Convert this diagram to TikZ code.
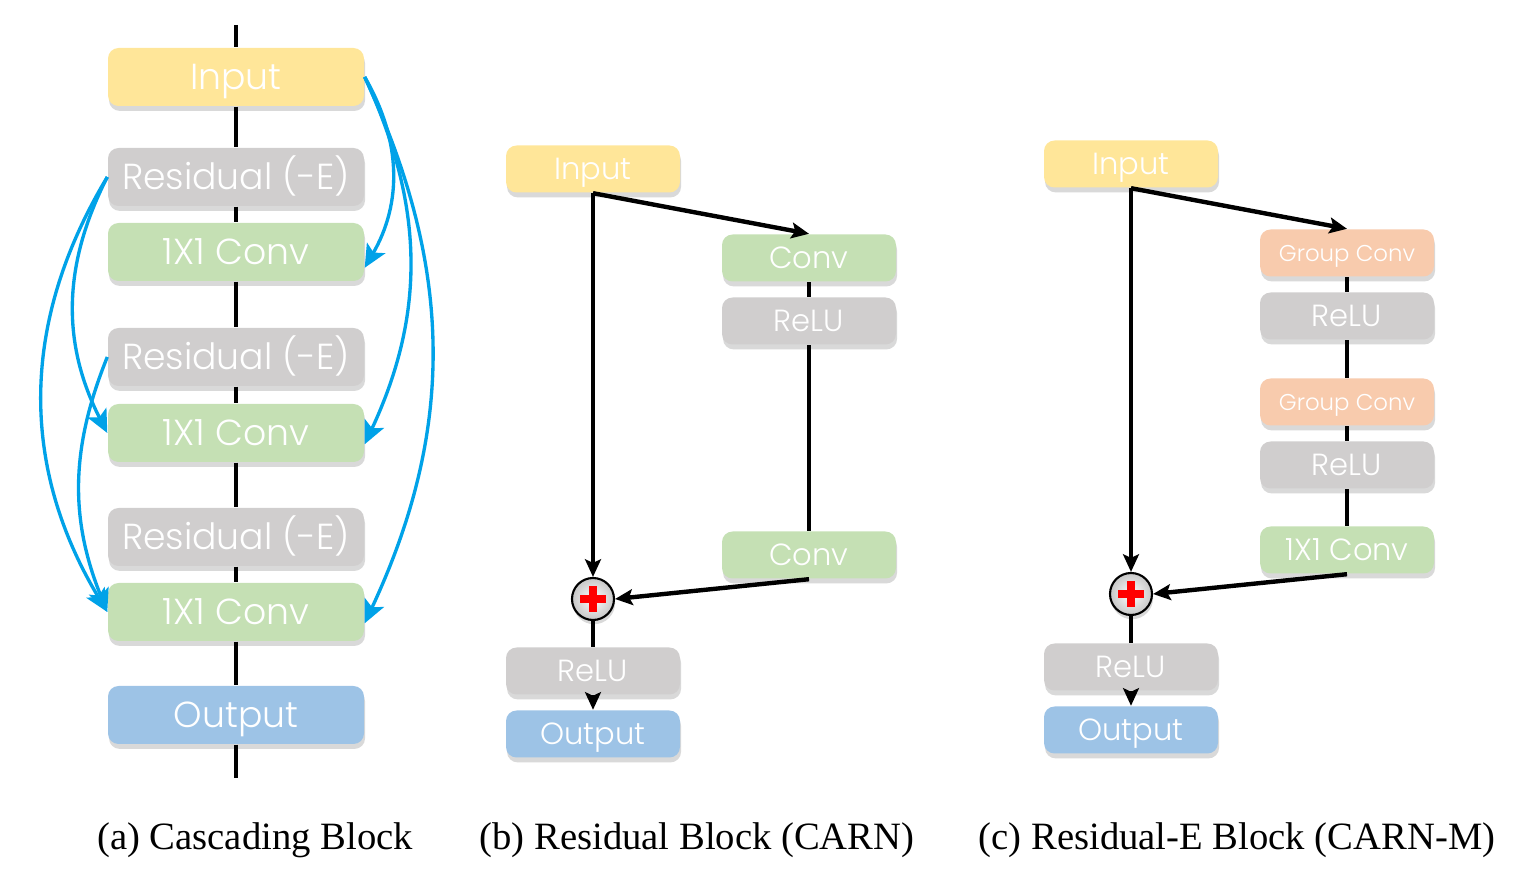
\documentclass[tikz,border=0pt]{standalone}
\usepackage{fontspec}
\setmainfont{Liberation Serif}
\newfontfamily\boxfont{Poppins Light}
\definecolor{boxyellow}{RGB}{255,230,153}
\definecolor{boxgray}{RGB}{208,206,206}
\definecolor{boxgreen}{RGB}{197,224,180}
\definecolor{boxblue}{RGB}{157,195,230}
\definecolor{boxorange}{RGB}{248,203,173}
\definecolor{skipblue}{RGB}{0,162,232}
\usetikzlibrary{arrows.meta,positioning,shadows}

\begin{document}
\begin{tikzpicture}[
  every node/.style={font=\boxfont},
  blockA/.style={rounded corners=3pt,minimum width=2.56cm,minimum height=0.58cm,inner sep=0pt,
                 text=white,font=\boxfont\fontsize{10.3}{12}\selectfont,text height=7.2pt,text depth=0pt,
                 drop shadow={shadow xshift=0.3pt,shadow yshift=-1.4pt,opacity=0.25,fill=black!60}},
  blockB/.style={blockA,minimum width=1.74cm,minimum height=0.47cm,
                 font=\boxfont\fontsize{8.7}{10}\selectfont,text height=6.1pt},
  blockS/.style={blockB,font=\boxfont\fontsize{6.5}{8}\selectfont,text height=4.6pt},
  sumnode/.style={circle,draw,line width=0.6pt,minimum size=0.42cm,inner sep=0pt,
                  inner color=white,outer color=black!22,
                  drop shadow={shadow xshift=0.3pt,shadow yshift=-1.2pt,opacity=0.25,fill=black!60},
                  path picture={
                    \fill[red] ([xshift=-0.13cm,yshift=-0.043cm]path picture bounding box.center) rectangle ++(0.26,0.086);
                    \fill[red] ([xshift=-0.043cm,yshift=-0.13cm]path picture bounding box.center) rectangle ++(0.086,0.26);
                  }},
  trunk/.style={line width=1.25pt},
  flow/.style={trunk,-{Stealth[length=5pt,width=4.5pt,inset=1pt]}},
  skip/.style={line width=0.95pt,skipblue,-{Stealth[length=6.5pt,width=6pt,inset=1.5pt]}},
  caption/.style={font=\rmfamily\fontsize{11}{13}\selectfont,anchor=base},
]
  \useasboundingbox (0,0) rectangle (15.35,-8.87);

  % (a) Cascading block
  \coordinate (topA) at (2.36,-0.25);
  \coordinate (botA) at (2.36,-7.78);
  \node[blockA,fill=boxyellow] (inA) at (2.36,-0.77) {Input};
  \node[blockA,fill=boxgray] (resA1) at (2.36,-1.77) {Residual (-E)};
  \node[blockA,fill=boxgreen] (cvA1) at (2.36,-2.52) {1X1 Conv};
  \node[blockA,fill=boxgray] (resA2) at (2.36,-3.57) {Residual (-E)};
  \node[blockA,fill=boxgreen] (cvA2) at (2.36,-4.33) {1X1 Conv};
  \node[blockA,fill=boxgray] (resA3) at (2.36,-5.37) {Residual (-E)};
  \node[blockA,fill=boxgreen] (cvA3) at (2.36,-6.12) {1X1 Conv};
  \node[blockA,fill=boxblue] (outA) at (2.36,-7.15) {Output};

  \foreach \a/\b in {topA/inA,inA/resA1,resA1/cvA1,cvA1/resA2,resA2/cvA2,cvA2/resA3,resA3/cvA3,cvA3/outA,outA/botA}
    \draw[trunk] (\a) -- (\b);

  % cascading skips
  \draw[skip] (inA.east) to[out=-60,in=60] (cvA1.-7);
  \draw[skip] (inA.east) to[out=-65,in=65] (cvA2.-5);
  \draw[skip] (inA.east) to[out=-65,in=65] (cvA3.-5);
  \draw[skip] (resA1.west) to[out=-117,in=117] (cvA2.west);
  \draw[skip] (resA1.west) to[out=-121,in=121] (cvA3.west);
  \draw[skip] (resA2.west) to[out=-112,in=112] (cvA3.west);

  % (b) Residual block
  \node[blockB,fill=boxyellow] (inB) at (5.93,-1.69) {Input};
  \node[blockB,fill=boxgreen] (cvB1) at (8.09,-2.58) {Conv};
  \node[blockB,fill=boxgray] (reB1) at (8.09,-3.21) {ReLU};
  \node[blockB,fill=boxgreen] (cvB2) at (8.09,-5.55) {Conv};
  \node[sumnode] (plusB) at (5.93,-5.99) {};
  \node[blockB,fill=boxgray] (reB2) at (5.93,-6.71) {ReLU};
  \node[blockB,fill=boxblue] (outB) at (5.93,-7.34) {Output};

  \draw[flow] (inB.south) -- (cvB1.north);
  \draw[flow] (inB.south) -- (plusB.north);
  \draw[trunk] (cvB1) -- (reB1);
  \draw[trunk] (reB1) -- (cvB2);
  \draw[flow] (cvB2.south) -- (plusB.east);
  \draw[trunk] (plusB) -- (reB2);
  \draw[flow] (reB2) -- (outB);

  % (c) Residual-E block
  \node[blockB,fill=boxyellow] (inC) at (11.31,-1.64) {Input};
  \node[blockS,fill=boxorange] (gcC1) at (13.47,-2.53) {Group Conv};
  \node[blockB,fill=boxgray] (reC1) at (13.47,-3.16) {ReLU};
  \node[blockS,fill=boxorange] (gcC2) at (13.47,-4.02) {Group Conv};
  \node[blockB,fill=boxgray] (reC2) at (13.47,-4.65) {ReLU};
  \node[blockB,fill=boxgreen] (cvC) at (13.47,-5.50) {1X1 Conv};
  \node[sumnode] (plusC) at (11.31,-5.94) {};
  \node[blockB,fill=boxgray] (reC3) at (11.31,-6.67) {ReLU};
  \node[blockB,fill=boxblue] (outC) at (11.31,-7.30) {Output};

  \draw[flow] (inC.south) -- (gcC1.north);
  \draw[flow] (inC.south) -- (plusC.north);
  \foreach \a/\b in {gcC1/reC1,reC1/gcC2,gcC2/reC2,reC2/cvC}
    \draw[trunk] (\a) -- (\b);
  \draw[flow] (cvC.south) -- (plusC.east);
  \draw[trunk] (plusC) -- (reC3);
  \draw[flow] (reC3) -- (outC);

  % captions
  \node[caption] (capA) at (2.55,-8.50) {(a) Cascading Block};
  \node[caption] (capB) at (6.97,-8.50) {(b) Residual Block (CARN)};
  \node[caption] (capC) at (12.37,-8.50) {(c) Residual-E Block (CARN-M)};
\end{tikzpicture}
\end{document}
